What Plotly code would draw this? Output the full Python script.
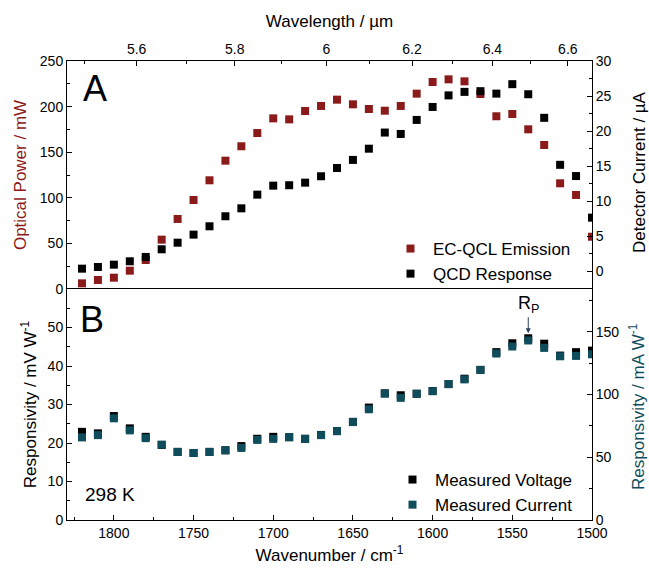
import plotly.graph_objects as go

# wavenumber grid (cm^-1), shared by both panels
wavenumber = [1820, 1810, 1800, 1790, 1780, 1770, 1760, 1750, 1740, 1730, 1720,
              1710, 1700, 1690, 1680, 1670, 1660, 1650, 1640, 1630, 1620, 1610,
              1600, 1590, 1580, 1570, 1560, 1550, 1540, 1530, 1520, 1510, 1500]

# panel A
optical_power = [6.2, 9.9, 12.4, 20.1, 31.8, 54.1, 76.8, 97.6, 119.2, 140.7, 156.5,
                 171.0, 187.1, 186.0, 195.2, 200.7, 207.6, 202.5, 197.4, 195.5, 200.7, 214.2,
                 227.0, 229.9, 227.7, 213.8, 189.4, 191.9, 175.1, 157.9, 115.9, 103.1, 57.3]
detector_current = [0.4, 0.64, 0.97, 1.45, 2.07, 3.16, 4.1, 5.25, 6.44, 7.87, 9.0,
                    10.95, 12.23, 12.29, 12.66, 13.57, 14.75, 15.9, 17.5, 19.8, 19.6, 21.6,
                    23.45, 25.1, 25.6, 25.7, 25.35, 26.7, 25.26, 21.9, 15.2, 13.6, 7.67]

# panel B
resp_voltage = [22.9, 22.5, 27.0, 23.8, 21.6, 19.5, 17.7, 17.4, 17.7, 18.1, 19.2,
                21.1, 21.6, 21.5, 21.1, 22.1, 23.1, 25.5, 29.2, 32.9, 32.4, 32.8,
                33.5, 35.3, 36.7, 39.0, 43.6, 45.9, 47.2, 45.8, 42.7, 43.6, 44.0]
resp_current = [65.8, 67.6, 81.0, 71.4, 65.2, 60.0, 54.2, 53.4, 54.2, 55.6, 57.4,
                63.8, 64.6, 66.0, 64.6, 67.6, 70.8, 78.0, 88.2, 100.7, 97.3, 100.5,
                102.6, 108.3, 112.0, 119.5, 132.6, 138.2, 143.0, 137.1, 130.4, 130.7, 132.0]

# top axis labels (wavelength, µm)
wl_major = [5.6, 5.8, 6.0, 6.2, 6.4, 6.6]
wl_major_text = ["5.6", "5.8", "6", "6.2", "6.4", "6.6"]
wl_minor = [5.5, 5.7, 5.9, 6.1, 6.3, 6.5]

RED = "#8b1a1a"
TEAL = "#0f4d5c"
FONT = "Liberation Sans, Arial, sans-serif"
X_RANGE = [1829.4, 1500]
SPLIT = 231 / 459

MSIZE = 8

fig = go.Figure()
fig.add_trace(go.Scatter(x=wavenumber, y=optical_power, mode="markers", name="EC-QCL Emission",
                         marker=dict(symbol="square", size=MSIZE, color=RED),
                         xaxis="x2", yaxis="y", legend="legend"))
fig.add_trace(go.Scatter(x=wavenumber, y=detector_current, mode="markers", name="QCD Response",
                         marker=dict(symbol="square", size=MSIZE, color="black"),
                         xaxis="x2", yaxis="y2", legend="legend"))
fig.add_trace(go.Scatter(x=wavenumber, y=resp_voltage, mode="markers", name="Measured Voltage",
                         marker=dict(symbol="square", size=MSIZE, color="black"),
                         xaxis="x", yaxis="y3", legend="legend2"))
fig.add_trace(go.Scatter(x=wavenumber, y=resp_current, mode="markers", name="Measured Current",
                         marker=dict(symbol="square", size=MSIZE, color=TEAL),
                         xaxis="x", yaxis="y4", legend="legend2"))

axis_style = dict(showline=True, linecolor="black", linewidth=1, ticks="inside",
                  ticklen=5, tickcolor="black", showgrid=False, zeroline=False,
                  tickfont=dict(size=14, color="black"))
minor_style = dict(ticks="inside", ticklen=3, tickcolor="black", showgrid=False)
title_font = dict(size=17, color="black")

fig.update_layout(
    width=649, height=570,
    margin=dict(l=67, r=57, t=61, b=50, autoexpand=False),
    paper_bgcolor="white", plot_bgcolor="white",
    font=dict(family=FONT, color="black"),
    showlegend=True,
    # bottom axis; mirror draws the line between the panels
    xaxis=dict(**axis_style, mirror=True, domain=[0, 1], anchor="y3", range=X_RANGE,
               tickvals=[1800, 1750, 1700, 1650, 1600, 1550, 1500],
               minor=dict(**minor_style, tickvals=[1825, 1775, 1725, 1675, 1625, 1575, 1525]),
               title=dict(text="Wavenumber / cm<sup>-1</sup>", font=title_font, standoff=9)),
    # top axis of panel A, wavelength labels
    xaxis2=dict(**axis_style, side="top", domain=[0, 1], anchor="y", range=X_RANGE,
                tickvals=[1e4 / w for w in wl_major], ticktext=wl_major_text,
                minor=dict(**minor_style, tickvals=[1e4 / w for w in wl_minor]),
                title=dict(text="Wavelength / µm", font=title_font, standoff=9)),
    yaxis=dict(**axis_style, domain=[SPLIT, 1], anchor="x2", range=[0, 250],
               tickvals=[0, 50, 100, 150, 200, 250],
               minor=dict(**minor_style, tickvals=[25, 75, 125, 175, 225]),
               title=dict(text="Optical Power / mW", font=dict(size=17, color=RED), standoff=8)),
    yaxis2=dict(**axis_style, overlaying="y", side="right", anchor="x2", range=[-2.5, 30],
                tickvals=[0, 5, 10, 15, 20, 25, 30],
                minor=dict(**minor_style, tickvals=[-2.5, 2.5, 7.5, 12.5, 17.5, 22.5, 27.5])),
    yaxis3=dict(**axis_style, domain=[0, SPLIT], anchor="x", range=[0, 60],
                tickvals=[0, 10, 20, 30, 40, 50],
                minor=dict(**minor_style, tickvals=[5, 15, 25, 35, 45, 55]),
                title=dict(text="Responsivity / mV W<sup>-1</sup>", font=title_font, standoff=6)),
    yaxis4=dict(**axis_style, overlaying="y3", side="right", anchor="x", range=[0, 184],
                tickvals=[0, 50, 100, 150],
                minor=dict(**minor_style, tickvals=[25, 75, 125, 175])),
    legend=dict(x=(388 - 67) / 525, y=(520 - 292) / 459, xanchor="left", yanchor="bottom",
                bgcolor="rgba(0,0,0,0)", font=dict(size=17), itemwidth=35),
    legend2=dict(x=(390 - 67) / 525, y=(520 - 523) / 459, xanchor="left", yanchor="bottom",
                 bgcolor="rgba(0,0,0,0)", font=dict(size=17), itemwidth=35),
)

# right-hand axis titles placed by hand
side_title = dict(xref="paper", yref="paper", showarrow=False, textangle=-90,
                  xanchor="center", yanchor="middle")
fig.add_annotation(text="Detector Current / µA", x=(639 - 67) / 525, y=(520 - 172) / 459,
                   font=title_font, **side_title)
fig.add_annotation(text="Responsivity / mA W<sup>-1</sup>", x=(637 - 67) / 525, y=(520 - 407) / 459,
                   font=dict(size=17, color=TEAL), **side_title)

label_style = dict(xref="paper", yref="paper", showarrow=False, xanchor="center", yanchor="middle")
fig.add_annotation(text="A", x=(95 - 67) / 525, y=(520 - 88) / 459, font=dict(size=36), **label_style)
fig.add_annotation(text="B", x=(92 - 67) / 525, y=(520 - 319) / 459, font=dict(size=36), **label_style)
fig.add_annotation(text="298 K", x=(110 - 67) / 525, y=(520 - 494) / 459, font=dict(size=19), **label_style)
fig.add_annotation(text="R<sub>P</sub>", x=1540, y=47.2, xref="x", yref="y3",
                   showarrow=True, ax=0, ay=-34, arrowhead=2, arrowsize=1, arrowwidth=1,
                   standoff=5, font=dict(size=18))

# drop the default body margin so the figure sits at the window's corner
fig.write_html("out.html", config={"displayModeBar": False},
               post_script="document.body.style.margin='0px';")
